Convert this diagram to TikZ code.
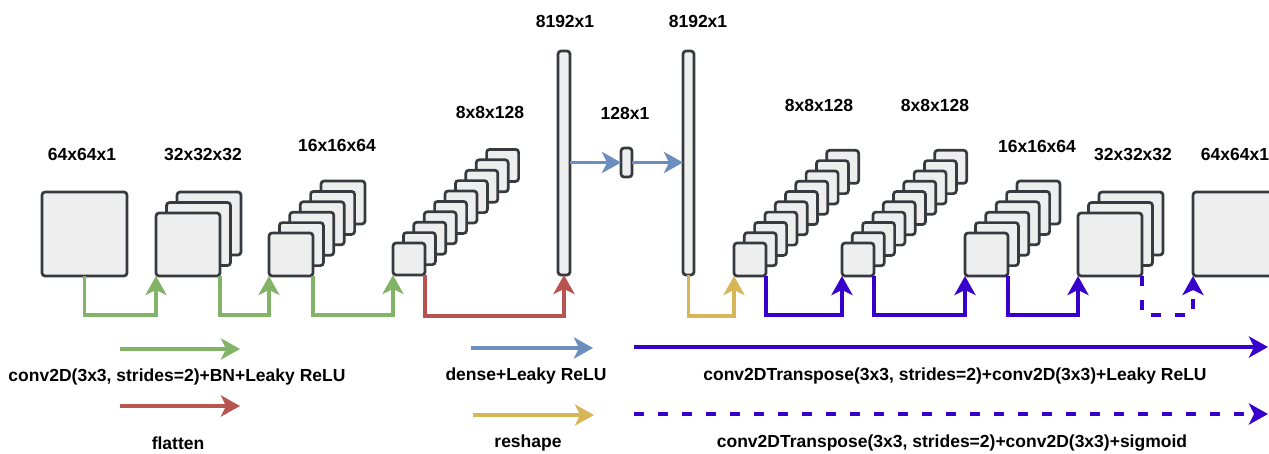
\documentclass[tikz,border=0pt]{standalone}
\usepackage{fontspec}
\setmainfont{Liberation Sans}
\usetikzlibrary{arrows.meta}
\definecolor{cgreen}{HTML}{82B366}
\definecolor{cred}{HTML}{B85450}
\definecolor{cblue}{HTML}{6C8EBF}
\definecolor{cyellow}{HTML}{D6B656}
\definecolor{cpurple}{HTML}{3700CC}
\definecolor{boxline}{HTML}{36393D}
\definecolor{boxfill}{HTML}{EEEEEE}
\tikzset{
  box/.style={draw=boxline, fill=boxfill, line width=2.7pt, rounded corners=3pt,
    inner sep=0pt, outer sep=0pt, anchor=north west},
  conn/.style={line width=3.8pt, -{Stealth[length=19pt,width=21pt,inset=5pt]}},
  dconn/.style={conn, dash pattern=on 10pt off 14pt},
  lbl/.style={font=\fontsize{17.5}{20}\selectfont\bfseries, inner sep=0pt}
}
% name, x, y, w, h, n, offset
\newcommand\mystack[7]{%
  \foreach \i in {#6,...,1} {
    \node[box, minimum width=#4pt, minimum height=#5pt] (#1-\i)
      at ({#2+(\i-1)*#7}, {#3-(\i-1)*#7}) {};
  }%
}
\begin{document}
\begin{tikzpicture}[x=1pt, y=-1pt]
\clip (0,0) rectangle (1269,453);
\useasboundingbox (0,0) rectangle (1269,453);

% encoder
\node[box, minimum width=85pt, minimum height=84pt] (in) at (42,192) {};
\mystack{e2}{156}{213}{64}{63}{3}{10.5}
\mystack{e3}{269}{233}{44}{43}{6}{10.4}
\mystack{e4}{393}{243}{32}{32}{10}{10.4}
\node[box, minimum width=12pt, minimum height=224pt] (bar1) at (558,51) {};
\node[box, minimum width=11pt, minimum height=29pt] (mid) at (621,148) {};
\node[box, minimum width=11pt, minimum height=224pt] (bar2) at (683,51) {};
% decoder
\mystack{d1}{734}{243}{32}{33}{10}{10.3}
\mystack{d2}{842}{243}{32}{33}{10}{10.3}
\mystack{d3}{965}{233}{43}{43}{6}{10.4}
\mystack{d4}{1078}{213}{64}{63}{3}{10.5}
\node[box, minimum width=85pt, minimum height=84pt] (out) at (1193,192) {};

% size labels
\node[lbl] (l1) at (82,154) {64x64x1};
\node[lbl] (l2) at (203,154) {32x32x32};
\node[lbl] (l3) at (337,145) {16x16x64};
\node[lbl] (l4) at (490,112) {8x8x128};
\node[lbl] (l5) at (565,21) {8192x1};
\node[lbl] (l6) at (625,113) {128x1};
\node[lbl] (l7) at (698,21) {8192x1};
\node[lbl] (l8) at (819,105) {8x8x128};
\node[lbl] (l9) at (935,105) {8x8x128};
\node[lbl] (l10) at (1037,146) {16x16x64};
\node[lbl] (l11) at (1133,154) {32x32x32};
\node[lbl] (l12) at (1235,154) {64x64x1};

% connectors
\draw[conn, cgreen] (in.south) -- ++(0,39) -| (e2-1.south west);
\draw[conn, cgreen] (e2-1.south east) -- ++(0,39) -| (e3-1.south west);
\draw[conn, cgreen] (e3-1.south east) -- ++(0,39) -| (e4-1.south west);
\draw[conn, cred] (e4-1.south east) -- ++(0,41) -| (bar1.south);
\draw[conn, cblue] (bar1.east |- mid.west) -- (mid.west);
\draw[conn, cblue] (mid.east) -- (mid.east -| bar2.west);
\draw[conn, cyellow] (bar2.south) -- ++(0,41) -| (d1-1.south west);
\draw[conn, cpurple] (d1-1.south east) -- ++(0,39) -| (d2-1.south west);
\draw[conn, cpurple] (d2-1.south east) -- ++(0,39) -| (d3-1.south west);
\draw[conn, cpurple] (d3-1.south east) -- ++(0,39) -| (d4-1.south west);
\draw[dconn, cpurple] (d4-1.south east) -- ++(0,39) -| (out.south west);

% legend
\coordinate (ga) at (120,349); \coordinate (gb) at (240,349);
\draw[conn, cgreen] (ga) -- (gb);
\node[lbl] (tg) at (177,377) {conv2D(3x3, strides=2)+BN+Leaky ReLU};
\coordinate (ra) at (120,406); \coordinate (rb) at (240,406);
\draw[conn, cred] (ra) -- (rb);
\node[lbl] (tr) at (178,443) {flatten};
\coordinate (ba) at (471,348); \coordinate (bb) at (593,348);
\draw[conn, cblue] (ba) -- (bb);
\node[lbl] (tb) at (526,376) {dense+Leaky ReLU};
\coordinate (ya) at (473,415); \coordinate (yb) at (594,415);
\draw[conn, cyellow] (ya) -- (yb);
\node[lbl] (ty) at (528,443) {reshape};
\coordinate (pa) at (634,347); \coordinate (pb) at (1268,347);
\draw[conn, cpurple] (pa) -- (pb);
\node[lbl] (tp) at (955,376) {conv2DTranspose(3x3, strides=2)+conv2D(3x3)+Leaky ReLU};
\coordinate (qa) at (634,414); \coordinate (qb) at (1268,414);
\draw[dconn, cpurple] (qa) -- (qb);
\node[lbl] (tq) at (952,443) {conv2DTranspose(3x3, strides=2)+conv2D(3x3)+sigmoid};
\end{tikzpicture}
\end{document}
